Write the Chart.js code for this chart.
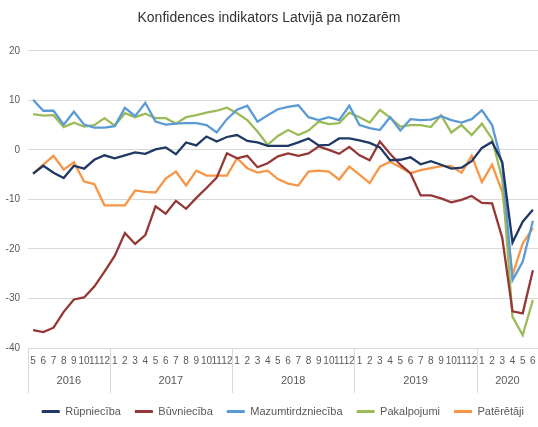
<!DOCTYPE html>
<html>
<head>
<meta charset="utf-8">
<script src="https://cdn.jsdelivr.net/npm/chart.js@4"></script>
<style>
  html, body { margin: 0; padding: 0; background: #fff; }
  #wrap { width: 538px; height: 427px; }
</style>
</head>
<body>
<div id="wrap"><canvas id="chart"></canvas></div>
<script>
// Month labels, May 2016 - June 2020
const months = [
  "5", "6", "7", "8", "9", "10", "11", "12",
  "1", "2", "3", "4", "5", "6", "7", "8", "9", "10", "11", "12",
  "1", "2", "3", "4", "5", "6", "7", "8", "9", "10", "11", "12",
  "1", "2", "3", "4", "5", "6", "7", "8", "9", "10", "11", "12",
  "1", "2", "3", "4", "5", "6"
];
const years = ["2016", "2017", "2018", "2019", "2020"];
const yearLengths = [8, 12, 12, 12, 6];

const rupnieciba = [
  -4.8, -3.2, -4.6, -5.7, -3.2, -3.8, -2.0, -1.1,
  -1.7, -1.1, -0.5, -0.8, 0.1, 0.5, -0.9, 1.5, 0.9, 2.7, 1.7, 2.6,
  3.0, 1.8, 1.5, 0.8, 0.8, 0.8, 1.5, 2.3, 0.9, 1.0, 2.3, 2.3,
  1.9, 1.4, 0.5, -2.1, -2.0, -1.5, -2.9, -2.3, -3.0, -3.8, -3.6, -2.3,
  0.4, 1.6, -2.5, -18.7, -14.5, -12.1
];
const buvnieciba = [
  -36.4, -36.8, -35.9, -32.7, -30.2, -29.8, -27.6, -24.6,
  -21.4, -16.8, -19.0, -17.2, -11.4, -12.9, -10.3, -11.9, -9.7, -7.7, -5.6, -0.7,
  -1.7, -1.2, -3.5, -2.7, -1.3, -0.7, -1.2, -0.7, 0.7, 0.0, -0.8, 0.6,
  -1.1, -2.1, 1.7, -0.8, -3.0, -4.7, -9.2, -9.2, -9.8, -10.6, -10.1, -9.3,
  -10.7, -10.8, -17.8, -32.6, -33.0, -24.3
];
const mazumtirdznieciba = [
  10.1, 7.9, 7.9, 5.1, 7.7, 5.1, 4.5, 4.5,
  4.8, 8.5, 6.8, 9.5, 5.7, 5.1, 5.3, 5.4, 5.4, 5.0, 3.5, 6.2,
  8.1, 8.9, 5.7, 7.0, 8.2, 8.7, 9.0, 6.6, 6.0, 6.6, 6.0, 8.9,
  5.0, 4.4, 4.0, 6.6, 3.9, 6.2, 6.0, 6.1, 6.8, 6.0, 5.5, 6.2,
  8.0, 5.0, -3.0, -26.3, -22.6, -14.3
];
const pakalpojumi = [
  7.2, 6.9, 7.0, 4.6, 5.5, 4.7, 5.0, 6.4,
  4.9, 7.4, 6.6, 7.3, 6.4, 6.4, 5.3, 6.6, 7.0, 7.5, 7.9, 8.5,
  7.4, 6.0, 3.7, 1.0, 2.8, 4.0, 3.0, 3.9, 5.7, 5.2, 5.4, 7.5,
  6.6, 5.5, 8.1, 6.5, 4.7, 5.0, 5.0, 4.6, 7.0, 3.5, 5.0, 3.0,
  5.3, 2.2, -6.0, -33.7, -37.4, -30.3
];
const pateretaji = [
  -4.8, -3.0, -1.2, -4.0, -2.5, -6.4, -6.9, -11.2,
  -11.2, -11.2, -8.2, -8.5, -8.6, -5.8, -4.4, -7.2, -4.2, -5.2, -5.2, -5.2,
  -1.7, -3.7, -4.6, -4.2, -5.9, -6.8, -7.2, -4.4, -4.2, -4.4, -6.0, -3.4,
  -5.0, -6.7, -3.4, -2.4, -3.5, -4.7, -4.1, -3.7, -3.3, -3.3, -4.6, -1.2,
  -6.5, -3.0, -8.5, -25.3, -18.9, -15.8
];

const FONT = "'Liberation Sans', Arial, sans-serif";
const GRID = "#d9d9d9";
const TEXT = "#595959";

function line(label, data, color) {
  return {
    label: label,
    data: data,
    borderColor: color,
    backgroundColor: color,
    borderWidth: 2.3,
    pointRadius: 0,
    tension: 0,
    fill: false,
  };
}

// Year row under the month ticks, with separators
const yearAxis = {
  id: "yearAxis",
  afterDraw(chart) {
    const ctx = chart.ctx;
    const x = chart.scales.x;
    const area = chart.chartArea;
    ctx.save();
    ctx.strokeStyle = GRID;
    ctx.lineWidth = 1;
    ctx.fillStyle = TEXT;
    ctx.font = "11px " + FONT;
    ctx.textAlign = "center";
    ctx.textBaseline = "middle";
    let start = 0;
    years.forEach((yr, k) => {
      const end = start + yearLengths[k];
      const left = start === 0 ? area.left
        : (x.getPixelForValue(start - 1) + x.getPixelForValue(start)) / 2;
      const right = end >= months.length ? area.right
        : (x.getPixelForValue(end - 1) + x.getPixelForValue(end)) / 2;
      ctx.beginPath();
      ctx.moveTo(Math.round(left) + 0.5, area.bottom);
      ctx.lineTo(Math.round(left) + 0.5, area.bottom + 45);
      ctx.stroke();
      ctx.fillText(yr, (left + right) / 2, area.bottom + 33);
      start = end;
    });
    ctx.restore();
  }
};

const ctx = document.getElementById("chart").getContext("2d");
const chart = new Chart(ctx, {
  type: "line",
  data: {
    labels: months,
    datasets: [
      line("Rūpniecība", rupnieciba, "#1f3864"),
      line("Būvniecība", buvnieciba, "#953735"),
      line("Mazumtirdzniecība", mazumtirdznieciba, "#5b9bd5"),
      line("Pakalpojumi", pakalpojumi, "#9bbb59"),
      line("Patērētāji", pateretaji, "#f79646"),
    ],
  },
  options: {
    responsive: true,
    maintainAspectRatio: false,
    animation: false,
    layout: { padding: { top: 6, right: 0, left: 0, bottom: 0 } },
    plugins: {
      title: {
        display: true,
        text: "Konfidences indikators Latvijā pa nozarēm",
        color: "#333333",
        font: { family: FONT, size: 14, weight: "normal" },
        padding: { top: 4, bottom: 24 },
      },
      legend: {
        position: "bottom",
        align: "end",
        labels: {
          color: TEXT,
          font: { family: FONT, size: 11 },
          boxWidth: 18,
          boxHeight: 3,
          padding: 14,
          generateLabels(c) {
            return Chart.defaults.plugins.legend.labels.generateLabels(c)
              .map((l) => Object.assign(l, { lineWidth: 0 }));
          },
        },
      },
      tooltip: { enabled: false },
    },
    scales: {
      x: {
        offset: true,
        grid: { display: false, drawTicks: true, tickLength: 7 },
        border: { display: false },
        ticks: {
          color: TEXT,
          font: { family: FONT, size: 10 },
          maxRotation: 0,
          autoSkip: false,
          padding: 0,
        },
        afterFit(scale) { scale.height += 25; },
      },
      y: {
        min: -40,
        max: 20,
        grid: { color: GRID, drawTicks: false },
        border: { display: false },
        ticks: {
          stepSize: 10,
          color: TEXT,
          font: { family: FONT, size: 10 },
          padding: 8,
        },
        afterFit(scale) { scale.width = 28; },
      },
    },
  },
  plugins: [yearAxis],
});
</script>
</body>
</html>
